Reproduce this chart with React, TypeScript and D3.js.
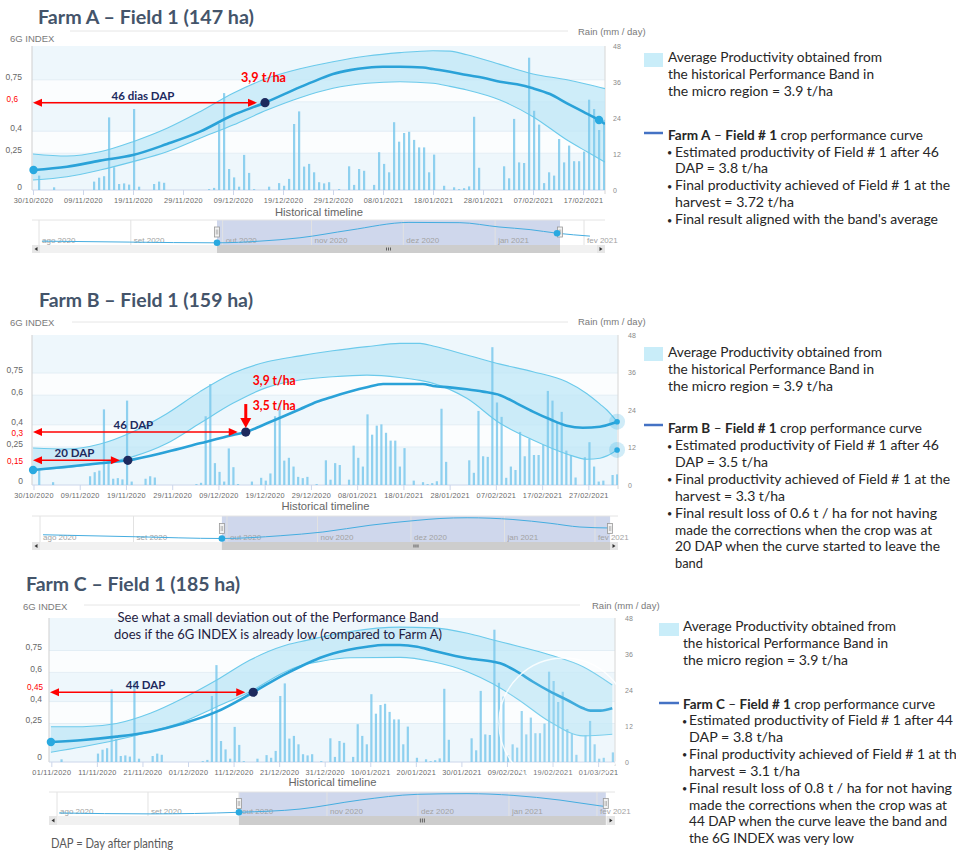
import React from "react";
import * as d3 from "d3";

// ---------------- DATA ----------------
// Rain (mm/day); day offset from 30/10/2020 (planting date)
const rainDay = [1,4,12,13,14,15,16,17,18,19,20,21,24,25,26,35,36,37,38,39,40,41,42,43,44,47,49,50,51,52,53,54,55,56,57,58,59,61,63,64,65,66,68,69,70,71,72,73,74,75,76,77,78,79,80,82,84,85,86,87,88,89,94,95,96,97,98,99,100,101,102,103,104,105,106,107,108,109,110,111,112,113,114,115,116,117,119,120,121,122,123,125,126];
const rainMm = [4.8,0.9,2.8,4.1,4.6,24.2,7.6,2.0,2.2,1.8,27.0,1.1,2.0,2.8,2.4,0.3,0.7,22.0,32.3,7.0,4.2,1.1,11.7,5.7,0.3,1.1,2.3,1.4,3.7,22.0,26.2,7.8,8.7,5.9,2.6,2.2,2.6,0.3,7.9,1.7,7.0,6.4,1.7,12.6,8.7,5.9,22.6,16.1,19.0,19.4,16.7,14.2,14.2,5.9,11.8,1.4,0.9,0.3,0.6,1.2,24.4,7.4,7.9,3.9,23.7,9.2,9.0,44.1,26.4,21.8,2.3,5.9,4.8,17.0,9.2,14.8,9.6,9.6,12.8,30.1,27.0,20.0,23.4,11.0,9.4,2.4,8.9,13.7,5.9,1.1,1.4,3.2,3.4];

const indexStripeTicks = [0.25, 0.4, 0.6, 0.75];
const rainTicks = [0, 12, 24, 36, 48];
const navMonthLabels = ["ago 2020", "set 2020", "out 2020", "nov 2020", "dez 2020", "jan 2021", "fev 2021"];
const navMonthDays = [0, 31, 62, 92, 123, 154, 184]; // from 01/08/2020

const bandLegendLines = ["Average Productivity obtained from", "the historical Performance Band in", "the micro region = 3.9 t/ha"];

// Farm A
const aCurveDay = [0,6.7,13.3,19.9,26.7,33.3,39.9,46.3,53.3,56.7,59.9,63.3,66.7,69.9,73.3,77.9,79.9,83.3,86.7,89.9,93.3,96.7,99.9,103.3,106.7,109.9,113.1,114.3];
const aCurveVal = [0.136,0.158,0.2,0.238,0.313,0.397,0.51,0.594,0.70,0.748,0.79,0.816,0.832,0.839,0.839,0.834,0.823,0.805,0.782,0.764,0.737,0.719,0.692,0.653,0.59,0.533,0.476,0.449];
const aBandDay = [-0.1,6.7,13.3,19.9,26.7,33.3,39.9,46.7,53.3,59.9,66.7,73.3,79.9,83.3,86.7,93.3,99.9,106.7,110.7,114.3];
const aBandUp = [0.245,0.231,0.26,0.329,0.42,0.533,0.658,0.76,0.825,0.873,0.912,0.935,0.948,0.945,0.92,0.855,0.79,0.75,0.72,0.69];
const aBandLo = [0.068,0.09,0.136,0.193,0.26,0.352,0.442,0.544,0.628,0.692,0.726,0.737,0.726,0.705,0.68,0.612,0.499,0.34,0.26,0.19];
const aNavDay = [1.0,30.7,60.1,74.6,88.1,105,124.9,142.1,155.3,165.8,174.9,186];
const aNavVal = [0.14,0.10,0.07,0.14,0.28,0.6,0.92,0.91,0.73,0.62,0.47,0.35];
const aNotes = ["Estimated productivity of Field # 1 after 46", "DAP = 3.8 t/ha", "Final productivity achieved of Field # 1 at the", "harvest = 3.72 t/ha", "Final result aligned with the band's average"];
const aNoteBullet = [true, false, true, false, true];

// Farm B
const bCurveDay = [-0.2,7.1,14.3,20.3,28.8,35.9,43,45.8,50.4,57.5,61.2,64.6,72,75.5,84.1,86.3,89.9,93.6,97.1,100.8,104.4,107.9,111.6,115.2,118.7,122.4,125.2,126.1];
const bCurveVal = [0.095,0.117,0.14,0.16,0.218,0.275,0.331,0.351,0.41,0.505,0.556,0.59,0.653,0.676,0.676,0.662,0.653,0.64,0.624,0.6,0.545,0.489,0.437,0.394,0.38,0.387,0.41,0.421];
const bBandDay = [-0.2,7.1,14.3,21.4,28.8,35.9,43,50.4,57.5,64.6,72,79.1,83.5,86.3,93.6,100.8,107.9,115.2,119.6,122.4,123.9,126.1];
const bBandUp = [0.243,0.236,0.27,0.353,0.477,0.624,0.748,0.826,0.866,0.9,0.928,0.95,0.95,0.932,0.872,0.81,0.759,0.691,0.61,0.54,0.5,0.421];
const bBandLo = [0.095,0.11,0.14,0.185,0.275,0.41,0.545,0.653,0.703,0.725,0.736,0.72,0.7,0.68,0.579,0.41,0.297,0.203,0.167,0.174,0.19,0.23];
const bNavDay = [1,31.8,60.3,79.6,93.8,109.4,125.3,132.6,141.6,156.8,169.1,179,189];
const bNavVal = [0.27,0.19,0.12,0.23,0.38,0.65,0.85,0.92,0.95,0.88,0.73,0.58,0.54];
const bNotes = ["Estimated productivity of Field # 1 after 46", "DAP = 3.5 t/ha", "Final productivity achieved of Field # 1 at the", "harvest = 3.3 t/ha", "Final result loss of 0.6 t / ha for not having", "made the corrections when the crop was at", "20 DAP when the curve started to leave the", "band"];
const bNoteBullet = [true, false, true, false, true, false, false, false];

// Farm C
const cCurveDay = [1.8,8.9,16.2,23.6,30.8,38.2,46.2,52.8,56.5,60.9,63.7,71.2,74.7,78.4,82.2,85.7,93.2,98.9,100.4,104.1,107.6,111.4,115.1,118.6,120.2,122.4,125];
const cCurveVal = [0.123,0.137,0.16,0.194,0.25,0.331,0.464,0.582,0.639,0.7,0.73,0.776,0.788,0.788,0.776,0.749,0.697,0.673,0.662,0.605,0.536,0.468,0.411,0.354,0.338,0.338,0.354];
const cBandDay = [1.8,8.8,16.2,23.6,30.8,38.2,45.5,52.8,56.5,60.9,67.5,78.4,85.7,93.2,98.9,104.1,111.4,118.6,125];
const cBandUp = [0.228,0.228,0.25,0.32,0.423,0.548,0.685,0.781,0.81,0.84,0.88,0.91,0.905,0.868,0.822,0.781,0.719,0.639,0.514];
const cBandLo = [0.053,0.091,0.137,0.194,0.262,0.365,0.468,0.598,0.645,0.675,0.7,0.703,0.673,0.605,0.52,0.42,0.26,0.165,0.176];
const cNavDay = [0.7,31.7,62,82.8,103.2,122.7,139.7,155.4,171.4,185,187];
const cNavVal = [0.11,0.07,0.14,0.28,0.67,0.92,0.95,0.875,0.67,0.42,0.39];
const cNotes = ["Estimated productivity of Field # 1 after 44", "DAP = 3.8 t/ha", "Final productivity achieved of Field # 1 at the", "harvest = 3.1 t/ha", "Final result loss of 0.8 t / ha for not having", "made the corrections when the crop was at", "44 DAP when the curve leave the band and", "the 6G INDEX was very low"];
const cNoteBullet = [true, false, true, false, true, false, false, false];
const cComment = ["See what a small deviation out of the Performance Band", "does if the 6G INDEX is already low (compared to Farm A)"];

// ---------------- STYLE ----------------
const PLANTING = Date.UTC(2020, 9, 30);
const DAY = 86400000;
const fmtDate = d3.utcFormat("%d/%m/%Y");
const fmtIdx = (v: number) => String(v).replace(".", ",");
const TXT = "Lato, 'Open Sans', sans-serif";
const AX = "'Liberation Sans', Arial, sans-serif";
const RED = "#ff0000";
const NAVY = "#1d2a5e";
const CURVE = "#2aa2d8";
const EDGE = "#6ccaeb";

type Dap = { day: number; v: number; label: string; red: string };
type Tag = { text: string; dap: number; dx: number; dy: number; anchor: string; w: number };
type Nav = { x0: number; x1: number; y0: number; y1: number; sy1: number; m0x: number; m6x: number; sel: [number, number]; day: number[]; val: number[]; dots: number[] };
type Notes = { swatch: [number, number, number, number]; lineY: number; textX: number; bandY: number; bandW: number[]; farmName: string; farmY: number; farmW: number; bulletX: number; bodyX: number; bodyY: number; lines: string[]; bullets: boolean[]; widths: number[] };
type Farm = {
  key: string; title: string; titleX: number; titleY: number; titleW: number;
  plot: { x0: number; x1: number; y0: number; y1: number };
  dayDomain: [number, number]; idxDomain: [number, number]; firstTick: number;
  grayTicks: number[]; tickLabelX: number; redLabelX: number; redDy: number; rainLabelX: number;
  indexLabel: [number, number]; topLine: [number, number, number]; rainTitle: [number, number]; histY: number;
  curveDay: number[]; curveVal: number[]; bandDay: number[]; bandUp: number[]; bandLo: number[];
  endDot?: number; bandHalos?: boolean; daps: Dap[]; tags: Tag[]; downArrow?: number;
  comment?: { lines: string[]; cx: number; y: number; w: number[] };
  circle?: { day: number; v: number; r: number };
  nav: Nav; notes: Notes;
};

const farms: Farm[] = [
  {
    key: "a", title: "Farm A – Field 1 (147 ha)", titleX: 38, titleY: 24, titleW: 216,
    plot: { x0: 32, x1: 605, y0: 46, y1: 190 }, dayDomain: [-0.3, 114.3], idxDomain: [0, 0.98], firstTick: 0,
    grayTicks: [0, 0.25, 0.4, 0.75], tickLabelX: 22, redLabelX: 18, redDy: -1, rainLabelX: 613,
    indexLabel: [10, 42], topLine: [70, 568, 31], rainTitle: [578, 35], histY: 216,
    curveDay: aCurveDay, curveVal: aCurveVal, bandDay: aBandDay, bandUp: aBandUp, bandLo: aBandLo,
    endDot: 26,
    daps: [{ day: 46.3, v: 0.594, label: "46 dias DAP", red: "0,6" }],
    tags: [{ text: "3,9 t/ha", dap: 0, dx: -1.5, dy: -21, anchor: "middle", w: 45 }],
    nav: { x0: 32, x1: 605, y0: 220, y1: 245, sy1: 253, m0x: 39, m6x: 584, sel: [60.1, 175.9], day: aNavDay, val: aNavVal, dots: [2, 10] },
    notes: { swatch: [644, 53, 19, 14], lineY: 133, textX: 668, bandY: 62, bandW: [214, 206, 165], farmName: "Farm A", farmY: 140, farmW: 255, bulletX: 667, bodyX: 675, bodyY: 156.5, lines: aNotes, bullets: aNoteBullet, widths: [264, 93, 275, 119, 263] },
  },
  {
    key: "b", title: "Farm B – Field 1 (159 ha)", titleX: 39, titleY: 307, titleW: 214,
    plot: { x0: 32, x1: 618, y0: 335, y1: 485 }, dayDomain: [-0.43, 126.3], idxDomain: [-0.0068, 1.0068], firstTick: 0,
    grayTicks: [0, 0.25, 0.4, 0.6, 0.75], tickLabelX: 23, redLabelX: 23, redDy: 3.5, rainLabelX: 628,
    indexLabel: [10, 326], topLine: [72, 568, 322], rainTitle: [578, 325], histY: 510,
    curveDay: bCurveDay, curveVal: bCurveVal, bandDay: bBandDay, bandUp: bBandUp, bandLo: bBandLo,
    bandHalos: true,
    daps: [{ day: 20.3, v: 0.16, label: "20 DAP", red: "0,15" }, { day: 45.8, v: 0.351, label: "46 DAP", red: "0,3" }],
    tags: [
      { text: "3,9 t/ha", dap: 1, dx: 7, dy: -47, anchor: "start", w: 43 },
      { text: "3,5 t/ha", dap: 1, dx: 7, dy: -22, anchor: "start", w: 43 },
    ],
    downArrow: 1,
    nav: { x0: 32, x1: 618, y0: 516, y1: 542, sy1: 550, m0x: 40, m6x: 595, sel: [60.3, 189], day: bNavDay, val: bNavVal, dots: [2] },
    notes: { swatch: [644, 347, 19, 14], lineY: 425, textX: 668, bandY: 357, bandW: [214, 206, 165], farmName: "Farm B", farmY: 433, farmW: 254, bulletX: 667, bodyX: 675, bodyY: 450, lines: bNotes, bullets: bNoteBullet, widths: [264, 93, 275, 110, 262, 257, 265, 28] },
  },
  {
    key: "c", title: "Farm C – Field 1 (185 ha)", titleX: 26, titleY: 591, titleW: 214,
    plot: { x0: 49, x1: 615, y0: 618, y1: 762 }, dayDomain: [1.38, 125.6], idxDomain: [-0.0137, 0.9726], firstTick: 2,
    grayTicks: [0, 0.25, 0.4, 0.6, 0.75], tickLabelX: 42, redLabelX: 43, redDy: -2.5, rainLabelX: 625,
    indexLabel: [23, 610], topLine: [84, 580, 605], rainTitle: [592, 609], histY: 786,
    curveDay: cCurveDay, curveVal: cCurveVal, bandDay: cBandDay, bandUp: cBandUp, bandLo: cBandLo,
    daps: [{ day: 46.2, v: 0.464, label: "44 DAP", red: "0,45" }],
    tags: [],
    comment: { lines: cComment, cx: 278, y: 622, w: [321, 328] },
    circle: { day: 114.4, v: 0.253, r: 65 },
    nav: { x0: 49, x1: 615, y0: 792, y1: 816, sy1: 825, m0x: 57, m6x: 597, sel: [62, 187], day: cNavDay, val: cNavVal, dots: [2] },
    notes: { swatch: [659, 623, 20, 13], lineY: 703, textX: 683, bandY: 631, bandW: [213, 205, 165], farmName: "Farm C", farmY: 709, farmW: 252, bulletX: 682, bodyX: 689, bodyY: 725, lines: cNotes, bullets: cNoteBullet, widths: [264, 94, 275, 111, 263, 258, 258, 165] },
  },
];

// ---------------- COMPONENTS ----------------
function HArrow({ x0, x1, y }: { x0: number; x1: number; y: number }) {
  const L = 9, H = 4;
  return (
    <g>
      <line x1={x0 + L - 1} x2={x1 - L + 1} y1={y} y2={y} stroke={RED} strokeWidth={1.6} />
      <path d={`M${x0},${y} L${x0 + L},${y - H} L${x0 + L},${y + H} Z`} fill={RED} />
      <path d={`M${x1},${y} L${x1 - L},${y - H} L${x1 - L},${y + H} Z`} fill={RED} />
    </g>
  );
}

function Navigator({ n }: { n: Nav }) {
  const nx = d3.scaleLinear().domain([0, 184]).range([n.m0x, n.m6x]);
  const ny = d3.scaleLinear().domain([0, 1]).range([n.y1 - 0.5, n.y0 + 0.5]);
  const pts = n.day.map((d, i) => [d, n.val[i]] as [number, number]);
  const ln = d3.line<[number, number]>().x((p) => nx(p[0])).y((p) => ny(p[1])).curve(d3.curveMonotoneX);
  const s0 = nx(n.sel[0]), s1 = nx(n.sel[1]);
  const my = (n.y0 + n.y1) / 2;
  const sm = (s0 + s1) / 2;
  return (
    <g>
      <rect x={n.x0} y={n.y0} width={n.x1 - n.x0} height={n.y1 - n.y0} fill="#ffffff" />
      <rect x={s0} y={n.y0} width={s1 - s0} height={n.y1 - n.y0} fill="#cfd7ec" />
      {navMonthDays.map((d, i) => (
        <g key={i}>
          <line x1={nx(d)} x2={nx(d)} y1={n.y0} y2={n.y1} stroke="#e2e2e2" />
          <text x={nx(d) + 3} y={n.y1 - 2.5} fontSize={8} fontFamily={AX} fill="#a3a3a3">{navMonthLabels[i]}</text>
        </g>
      ))}
      <line x1={n.x0} x2={n.x1} y1={n.y0} y2={n.y0} stroke="#e4e4e4" />
      <path d={ln(pts) || ""} fill="none" stroke="#45ade0" strokeWidth={1} />
      {/* scrollbar */}
      <rect x={n.x0} y={n.y1} width={n.x1 - n.x0} height={n.sy1 - n.y1} fill="#f1f1f1" />
      <rect x={s0} y={n.y1} width={s1 - s0} height={n.sy1 - n.y1} fill="#cdcdcd" />
      {[-2, 0, 2].map((o) => (
        <line key={o} x1={sm + o} x2={sm + o} y1={n.y1 + 2.5} y2={n.sy1 - 2.5} stroke="#444" strokeWidth={0.8} />
      ))}
      <rect x={n.x0} y={n.y1} width={8} height={n.sy1 - n.y1} fill="#e6e6e6" />
      <rect x={n.x1 - 8} y={n.y1} width={8} height={n.sy1 - n.y1} fill="#e6e6e6" />
      <path d={`M${n.x0 + 2.5},${(n.y1 + n.sy1) / 2} l3,-2 l0,4 Z`} fill="#333" />
      <path d={`M${n.x1 - 2.5},${(n.y1 + n.sy1) / 2} l-3,-2 l0,4 Z`} fill="#333" />
      {/* handles */}
      {[s0, s1].map((s, i) => (
        <g key={i}>
          <rect x={s - 2.5} y={my - 5.5} width={5} height={10} fill="#f2f2f2" stroke="#999" strokeWidth={0.8} />
          <line x1={s - 0.7} x2={s - 0.7} y1={my - 3} y2={my + 2} stroke="#999" strokeWidth={0.6} />
          <line x1={s + 0.7} x2={s + 0.7} y1={my - 3} y2={my + 2} stroke="#999" strokeWidth={0.6} />
        </g>
      ))}
      {n.dots.map((k) => (
        <circle key={k} cx={nx(n.day[k])} cy={ny(n.val[k])} r={3.3} fill="#29a9e0" />
      ))}
    </g>
  );
}

function NotesBlock({ n }: { n: Notes }) {
  const [sx, sy, sw, sh] = n.swatch;
  const fs = 12.5;
  return (
    <g fontFamily={TXT} fill="#262626">
      <rect x={sx} y={sy} width={sw} height={sh} fill="#c9edf9" />
      {bandLegendLines.map((t, i) => (
        <text key={i} x={n.textX} y={n.bandY + i * 17} fontSize={fs} textLength={n.bandW[i]} lengthAdjust="spacingAndGlyphs">{t}</text>
      ))}
      <line x1={sx} x2={sx + sw} y1={n.lineY} y2={n.lineY} stroke="#4472c4" strokeWidth={2.5} />
      <text x={n.textX} y={n.farmY} fontSize={fs} textLength={n.farmW} lengthAdjust="spacingAndGlyphs">
        <tspan fontWeight={700}>{n.farmName}</tspan>
        <tspan> – </tspan>
        <tspan fontWeight={700}>Field # 1</tspan>
        <tspan> crop performance curve</tspan>
      </text>
      {n.lines.map((t, i) => (
        <g key={i}>
          {n.bullets[i] && (
            <text x={n.bulletX} y={n.bodyY + i * 16.9 - 0.5} fontSize={9}>•</text>
          )}
          <text x={n.bodyX} y={n.bodyY + i * 16.9} fontSize={fs} textLength={n.widths[i]} lengthAdjust="spacingAndGlyphs">{t}</text>
        </g>
      ))}
    </g>
  );
}

function Panel({ f }: { f: Farm }) {
  const { plot } = f;
  const x = d3.scaleLinear().domain(f.dayDomain).range([plot.x0, plot.x1]);
  const y = d3.scaleLinear().domain(f.idxDomain).range([plot.y1, plot.y0]);
  const yr = d3.scaleLinear().domain([0, 48]).range([plot.y1, plot.y0]);

  const curvePts = f.curveDay.map((d, i) => [d, f.curveVal[i]] as [number, number]);
  type B = { d: number; up: number; lo: number };
  const band: B[] = f.bandDay.map((d, i) => ({ d, up: f.bandUp[i], lo: f.bandLo[i] }));
  const line = d3.line<[number, number]>().x((p) => x(p[0])).y((p) => y(p[1])).curve(d3.curveMonotoneX);
  const area = d3.area<B>().x((p) => x(p.d)).y0((p) => y(p.lo)).y1((p) => y(p.up)).curve(d3.curveMonotoneX);
  const upLine = d3.line<B>().x((p) => x(p.d)).y((p) => y(p.up)).curve(d3.curveMonotoneX);
  const loLine = d3.line<B>().x((p) => x(p.d)).y((p) => y(p.lo)).curve(d3.curveMonotoneX);

  const bounds = [f.idxDomain[0], ...indexStripeTicks, f.idxDomain[1]];
  const xTicks = d3.range(f.firstTick, f.dayDomain[1], 10);
  const clipId = `clip-${f.key}`;
  const bars = rainDay
    .map((d, i) => ({ d, mm: rainMm[i] }))
    .filter((b) => b.d >= f.dayDomain[0] && b.d <= f.dayDomain[1] - 0.3);

  const first = curvePts[0];
  const lastBand = band[band.length - 1];

  return (
    <g>
      <defs>
        <clipPath id={clipId}>
          <rect x={plot.x0} y={plot.y0} width={plot.x1 - plot.x0} height={plot.y1 - plot.y0} />
        </clipPath>
      </defs>
      {/* title */}
      <text x={f.titleX} y={f.titleY} fontFamily={TXT} fontWeight={700} fontSize={19} fill="#44546a" textLength={f.titleW} lengthAdjust="spacingAndGlyphs">{f.title}</text>
      <line x1={f.topLine[0]} x2={f.topLine[1]} y1={f.topLine[2]} y2={f.topLine[2]} stroke="#e6e6e6" />
      <text x={f.indexLabel[0]} y={f.indexLabel[1]} fontFamily={AX} fontSize={9.5} fill="#7a7a7a">6G INDEX</text>
      <text x={f.rainTitle[0]} y={f.rainTitle[1]} fontFamily={AX} fontSize={9.5} fill="#7a7a7a">Rain (mm / day)</text>

      {/* stripes */}
      {bounds.slice(0, -1).map((b, i) => (
        <rect key={i} x={plot.x0} width={plot.x1 - plot.x0} y={y(bounds[i + 1])} height={y(b) - y(bounds[i + 1])} fill={i % 2 === 0 ? "#eef7fc" : "#fbfdfe"} />
      ))}
      {indexStripeTicks.map((t) => (
        <line key={t} x1={plot.x0} x2={plot.x1} y1={y(t)} y2={y(t)} stroke="#e3eef5" />
      ))}
      <line x1={plot.x0} x2={plot.x0} y1={plot.y0} y2={plot.y1} stroke="#cfcfcf" />
      <line x1={plot.x1} x2={plot.x1} y1={plot.y0} y2={plot.y1 + 4} stroke="#d6d6d6" />
      <line x1={plot.x0} x2={plot.x1} y1={plot.y1} y2={plot.y1} stroke="#ccd6eb" />

      <g clipPath={`url(#${clipId})`}>
        <path d={area(band) || ""} fill="#bfe7f7" fillOpacity={0.75} />
        {bars.map((b) => (
          <rect key={b.d} x={x(b.d) - 0.5} width={2.2} y={yr(b.mm)} height={yr(0) - yr(b.mm)} fill="#7cc9ec" fillOpacity={0.85} />
        ))}
        <path d={upLine(band) || ""} fill="none" stroke={EDGE} strokeWidth={1.1} />
        <path d={loLine(band) || ""} fill="none" stroke={EDGE} strokeWidth={1.1} />
        <path d={line(curvePts) || ""} fill="none" stroke={CURVE} strokeWidth={2.6} strokeLinejoin="round" />
      </g>

      {/* axes labels */}
      {f.grayTicks.map((t) => (
        <text key={t} x={f.tickLabelX} y={y(t)} textAnchor="end" fontFamily={AX} fontSize={8.5} fill="#666">{fmtIdx(t)}</text>
      ))}
      {rainTicks.map((t) => (
        <text key={t} x={f.rainLabelX} y={yr(t) + 2.5} fontFamily={AX} fontSize={7} fill="#8a8a8a">{t}</text>
      ))}
      {xTicks.map((d) => (
        <g key={d}>
          <line x1={x(d)} x2={x(d)} y1={plot.y1} y2={plot.y1 + 5} stroke="#ccd6eb" />
          <text x={x(d)} y={plot.y1 + 13} textAnchor="middle" fontFamily={AX} fontSize={7.3} fill="#6a6a6a" letterSpacing={0.3}>
            {fmtDate(new Date(PLANTING + d * DAY))}
          </text>
        </g>
      ))}
      <text x={(plot.x0 + plot.x1) / 2 + 0.5} y={f.histY} textAnchor="middle" fontFamily={AX} fontSize={11.5} fill="#666" textLength={88} lengthAdjust="spacingAndGlyphs">Historical timeline</text>

      {/* start / end dots */}
      <circle cx={x(first[0])} cy={y(first[1])} r={4.2} fill="#29a9e0" />
      {f.endDot !== undefined && (
        <circle cx={x(curvePts[f.endDot][0])} cy={y(curvePts[f.endDot][1])} r={4.2} fill="#29a9e0" />
      )}
      {f.bandHalos && (
        <g>
          {[lastBand.up, lastBand.lo].map((v, i) => (
            <g key={i}>
              <circle cx={x(lastBand.d)} cy={y(v)} r={8} fill="#29a9e0" fillOpacity={0.22} />
              <circle cx={x(lastBand.d)} cy={y(v)} r={2.8} fill="#29a9e0" />
            </g>
          ))}
        </g>
      )}

      {/* DAP annotations */}
      {f.daps.map((p, i) => {
        const px = x(p.day), py = y(p.v);
        const x0 = plot.x0 + 1, x1 = px - 8;
        return (
          <g key={i}>
            <HArrow x0={x0} x1={x1} y={py} />
            <text x={(x0 + x1) / 2 - 2} y={py - 3} textAnchor="middle" fontFamily={TXT} fontWeight={700} fontSize={11.5} fill={NAVY}>{p.label}</text>
            <text x={f.redLabelX} y={py + f.redDy} textAnchor="end" fontFamily={AX} fontSize={8.2} fill={RED}>{p.red}</text>
            <circle cx={px} cy={py} r={4.6} fill={NAVY} />
          </g>
        );
      })}
      {f.downArrow !== undefined && (() => {
        const p = f.daps[f.downArrow];
        const px = x(p.day), py = y(p.v);
        return (
          <g>
            <line x1={px} x2={px} y1={py - 28} y2={py - 12} stroke={RED} strokeWidth={3} />
            <path d={`M${px},${py - 4} L${px - 5.5},${py - 14} L${px + 5.5},${py - 14} Z`} fill={RED} />
          </g>
        );
      })()}
      {f.tags.map((t, i) => {
        const p = f.daps[t.dap];
        return (
          <text key={i} x={x(p.day) + t.dx} y={y(p.v) + t.dy} textAnchor={t.anchor as any} fontFamily={TXT} fontWeight={700} fontSize={13} fill={RED} textLength={t.w} lengthAdjust="spacingAndGlyphs">{t.text}</text>
        );
      })}
      {f.comment && f.comment.lines.map((t, i) => (
        <text key={i} x={f.comment!.cx} y={f.comment!.y + i * 17} textAnchor="middle" fontFamily={TXT} fontSize={12.5} fill="#1f2040" textLength={f.comment!.w[i]} lengthAdjust="spacingAndGlyphs">{t}</text>
      ))}
      {f.circle && (
        <circle cx={x(f.circle.day)} cy={y(f.circle.v)} r={f.circle.r} fill="#ffffff" fillOpacity={0.1} stroke="#ffffff" strokeOpacity={0.85} strokeWidth={1.4} />
      )}

      <Navigator n={f.nav} />
      <NotesBlock n={f.notes} />
    </g>
  );
}

export default function App() {
  return (
    <svg width={956} height={852} viewBox="0 0 956 852" style={{ position: "absolute", left: 0, top: 0, background: "#fff" }}>
      <rect x={0} y={0} width={956} height={852} fill="#ffffff" />
      {farms.map((f) => (
        <Panel key={f.key} f={f} />
      ))}
      <text x={51} y={848} fontFamily={TXT} fontSize={12.5} fill="#595959" textLength={122} lengthAdjust="spacingAndGlyphs">DAP = Day after planting</text>
    </svg>
  );
}
